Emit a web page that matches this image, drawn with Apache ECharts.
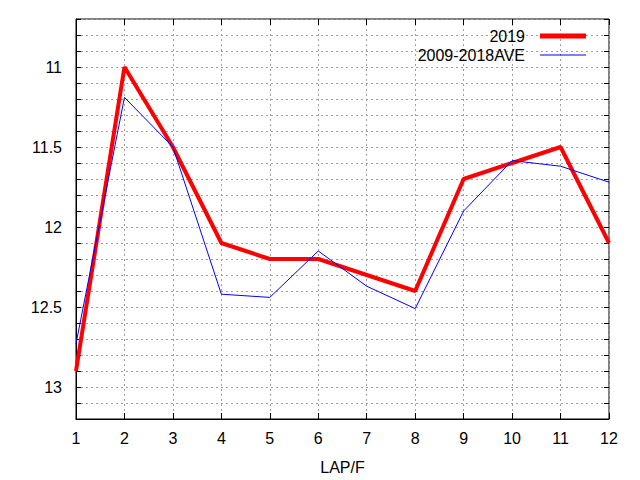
<!DOCTYPE html>
<html>
<head>
<meta charset="utf-8">
<script src="https://cdn.jsdelivr.net/npm/echarts@6/dist/echarts.min.js"></script>
<style>
  html, body { margin: 0; padding: 0; background: #fff; }
  #chart { width: 640px; height: 480px; }
</style>
</head>
<body>
<div id="chart"></div>
<script>
var laps = ['1', '2', '3', '4', '5', '6', '7', '8', '9', '10', '11', '12'];
var times2019 = [12.9, 11.0, 11.5, 12.1, 12.2, 12.2, 12.3, 12.4, 11.7, 11.6, 11.5, 12.1];
var timesAve = [12.73, 11.19, 11.5, 12.42, 12.44, 12.15, 12.37, 12.51, 11.9, 11.585, 11.62, 11.72];

(function() {
  var font = '"Liberation Sans", Arial, sans-serif';
  var ink = '#000';
  var gridGray = '#a0a0a0';
  var fs = 16;

  var chart = echarts.init(document.getElementById('chart'), null, { renderer: 'svg' });

  function isMajor(v) {
    return Math.abs(v * 2 - Math.round(v * 2)) < 1e-6;
  }

  chart.setOption({
    animation: false,
    backgroundColor: '#fff',
    textStyle: { fontFamily: font },
    grid: {
      left: 76, right: 31, top: 19, bottom: 61,
      show: true, borderColor: ink, borderWidth: 1, backgroundColor: 'transparent'
    },
    legend: [
      {
        data: ['2019'],
        right: 49, top: 23,
        align: 'right',
        itemWidth: 46, itemHeight: 5, itemGap: 0,
        icon: 'rect',
        textStyle: { color: ink, fontSize: fs, fontFamily: font, padding: [0, 10, 0, 0] }
      },
      {
        data: ['2009-2018AVE'],
        right: 49, top: 42,
        align: 'right',
        itemWidth: 46, itemHeight: 1, itemGap: 0,
        icon: 'rect',
        textStyle: { color: ink, fontSize: fs, fontFamily: font, padding: [0, 10, 0, 0] }
      }
    ],
    xAxis: [
      {
        type: 'category',
        data: laps,
        boundaryGap: false,
        name: 'LAP/F',
        nameLocation: 'middle',
        nameGap: 40,
        nameTextStyle: { color: ink, fontSize: fs, fontFamily: font },
        axisLine: { show: true, lineStyle: { color: ink } },
        axisTick: { show: true, inside: true, length: 6, lineStyle: { color: ink } },
        axisLabel: { color: ink, fontSize: fs, margin: 11, fontFamily: font },
        splitLine: { show: true, lineStyle: { color: gridGray, type: [2, 3], width: 1 } }
      },
      {
        type: 'category',
        data: laps,
        boundaryGap: false,
        position: 'top',
        axisLine: { show: false },
        axisTick: { show: true, inside: true, length: 6, lineStyle: { color: ink } },
        axisLabel: { show: false },
        splitLine: { show: false }
      }
    ],
    yAxis: [
      {
        type: 'value',
        inverse: true,
        min: 10.7,
        max: 13.2,
        interval: 0.1,
        axisLine: { show: true, lineStyle: { color: ink } },
        axisTick: { show: true, inside: true, length: 5, lineStyle: { color: ink } },
        axisLabel: {
          color: ink, fontSize: fs, margin: 14, fontFamily: font,
          formatter: function(v) { return isMajor(v) ? String(Math.round(v * 2) / 2) : ''; }
        },
        splitLine: { show: true, lineStyle: { color: gridGray, type: [2, 3], width: 1 } }
      },
      {
        type: 'value',
        inverse: true,
        min: 10.7,
        max: 13.2,
        interval: 0.1,
        position: 'right',
        axisLine: { show: false },
        axisTick: { show: true, inside: true, length: 5, lineStyle: { color: ink } },
        axisLabel: { show: false },
        splitLine: { show: false }
      }
    ],
    series: [
      {
        name: '2019',
        type: 'line',
        data: times2019,
        symbol: 'none',
        z: 3,
        itemStyle: { color: '#ff0000' },
        lineStyle: { color: '#ff0000', width: 4 }
      },
      {
        name: '2009-2018AVE',
        type: 'line',
        data: timesAve,
        symbol: 'none',
        z: 4,
        itemStyle: { color: '#0000ff' },
        lineStyle: { color: '#0000ff', width: 1 }
      }
    ]
  });
  window.addEventListener('resize', function() { chart.resize(); });
})();
</script>
</body>
</html>
